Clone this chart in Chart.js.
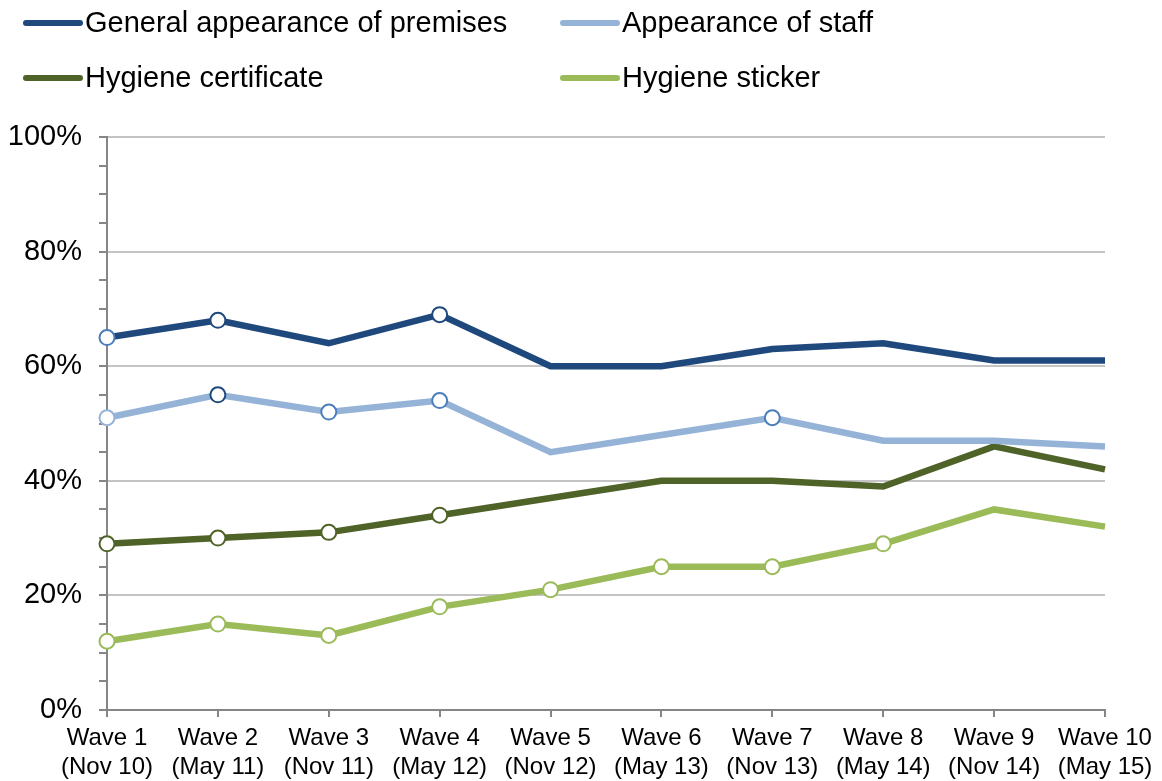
<!DOCTYPE html>
<html>
<head>
<meta charset="utf-8">
<script src="https://cdn.jsdelivr.net/npm/chart.js@4"></script>
<style>
  body { margin: 0; background: #fff; }
  #wrap { width: 1162px; height: 781px; position: relative; }
</style>
</head>
<body>
<div id="wrap"><canvas id="canvas"></canvas></div>
<script>
const waves = [
    ['Wave 1', '(Nov 10)'], ['Wave 2', '(May 11)'], ['Wave 3', '(Nov 11)'],
    ['Wave 4', '(May 12)'], ['Wave 5', '(Nov 12)'], ['Wave 6', '(May 13)'],
    ['Wave 7', '(Nov 13)'], ['Wave 8', '(May 14)'], ['Wave 9', '(Nov 14)'],
    ['Wave 10', '(May 15)']
];
const premises = [65, 68, 64, 69, 60, 60, 63, 64, 61, 61];
const staff = [51, 55, 52, 54, 45, 48, 51, 47, 47, 46];
const certificate = [29, 30, 31, 34, 37, 40, 40, 39, 46, 42];
const sticker = [12, 15, 13, 18, 21, 25, 25, 29, 35, 32];
const yTicks = [0, 20, 40, 60, 80, 100];

// open circle markers: wave index -> ring colour
const premisesRings = {0: '#4a7ebb', 1: '#1f497d', 3: '#1f497d'};
const staffRings = {0: '#95b3d7', 1: '#1f497d', 2: '#4a7ebb', 3: '#4a7ebb', 6: '#4a7ebb'};
const certRings = {0: '#4f6228', 1: '#4f6228', 2: '#4f6228', 3: '#4f6228'};
const stickerRings = {0: '#9bbb59', 1: '#9bbb59', 2: '#9bbb59', 3: '#9bbb59',
    4: '#9bbb59', 5: '#9bbb59', 6: '#9bbb59', 7: '#9bbb59'};

const makeSeries = (label, values, color, rings) => ({
    label: label,
    data: values,
    borderColor: color,
    borderWidth: 6.5,
    fill: false,
    tension: 0,
    pointRadius: values.map((v, i) => rings[i] ? 7.5 : 0),
    pointBorderColor: values.map((v, i) => rings[i] || color),
    pointBackgroundColor: '#ffffff',
    pointBorderWidth: 2,
    pointHoverRadius: 0
});

// two column legend above the plot
const legendBlock = {
    id: 'legendBlock',
    afterDraw(chart) {
        const ctx = chart.ctx;
        const cols = [26, 563];
        const rows = [23, 78];
        ctx.save();
        ctx.font = '29px "Liberation Sans", Arial, sans-serif';
        ctx.textBaseline = 'middle';
        ctx.fillStyle = '#000';
        chart.data.datasets.forEach((ds, i) => {
            const x = cols[i % 2];
            const y = rows[Math.floor(i / 2)];
            ctx.strokeStyle = ds.borderColor;
            ctx.lineWidth = 6;
            ctx.lineCap = 'round';
            ctx.beginPath();
            ctx.moveTo(x, y);
            ctx.lineTo(x + 54, y);
            ctx.stroke();
            ctx.fillText(ds.label, x + 59, y + 1);
        });
        ctx.restore();
    }
};

const myChart = new Chart(
    document.getElementById('canvas'),
    {
        type: 'line',
        data: {
            labels: waves,
            datasets: [
                makeSeries('General appearance of premises', premises, '#1f497d', premisesRings),
                makeSeries('Appearance of staff', staff, '#95b3d7', staffRings),
                makeSeries('Hygiene certificate', certificate, '#4f6228', certRings),
                makeSeries('Hygiene sticker', sticker, '#9bbb59', stickerRings)
            ]
        },
        options: {
            responsive: true,
            maintainAspectRatio: false,
            animation: false,
            events: [],
            layout: { padding: { top: 137, right: 57, left: 0, bottom: 0 } },
            plugins: {
                legend: { display: false },
                tooltip: { enabled: false }
            },
            scales: {
                x: {
                    type: 'category',
                    offset: false,
                    afterFit: (scale) => { scale.height = 71; },
                    border: { color: '#868686', width: 2 },
                    grid: {
                        drawOnChartArea: false,
                        drawTicks: true,
                        tickLength: 7,
                        tickColor: '#868686',
                        lineWidth: 2
                    },
                    ticks: {
                        color: '#000',
                        font: { family: '"Liberation Sans", Arial, sans-serif', size: 24 },
                        padding: 7,
                        maxRotation: 0,
                        autoSkip: false
                    }
                },
                y: {
                    min: 0,
                    max: 100,
                    afterFit: (scale) => { scale.width = 107; },
                    border: { color: '#868686', width: 2 },
                    grid: {
                        color: (c) => yTicks.includes(c.tick.value) ? '#c4c4c4' : 'rgba(0,0,0,0)',
                        lineWidth: 2,
                        tickColor: '#868686',
                        tickLength: 8
                    },
                    ticks: {
                        stepSize: 5,
                        autoSkip: false,
                        color: '#000',
                        padding: 17,
                        font: { family: '"Liberation Sans", Arial, sans-serif', size: 29 },
                        callback: (v) => yTicks.includes(v) ? v + '%' : ''
                    }
                }
            }
        },
        plugins: [legendBlock]
    }
);
</script>
</body>
</html>
